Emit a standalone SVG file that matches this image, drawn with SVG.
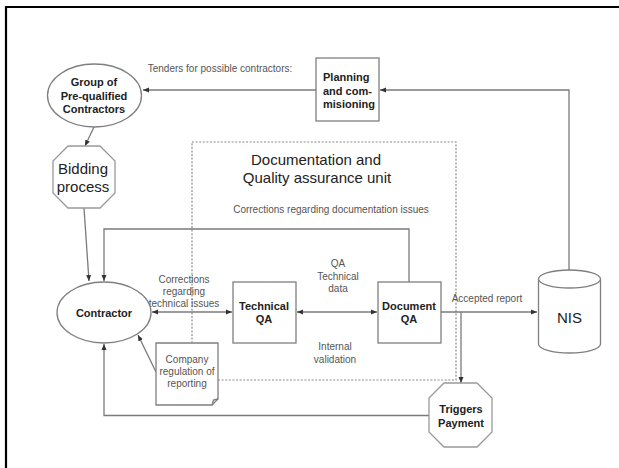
<svg xmlns="http://www.w3.org/2000/svg" width="619" height="468" viewBox="0 0 619 468">
<defs>
<marker id="ah" markerUnits="userSpaceOnUse" markerWidth="7" markerHeight="6" refX="6" refY="3" orient="auto-start-reverse">
<path d="M0,0.5 L6,3 L0,5.5 Z" fill="#333"/>
</marker>
</defs>
<style>
.shape{fill:#fff;stroke:#7f7f7f;stroke-width:1.3}
.oct{fill:#fff;stroke:#999;stroke-width:1.3}
.line{fill:none;stroke:#7a7a7a;stroke-width:1.3}
.dot{fill:none;stroke:#8a8a8a;stroke-width:1.2;stroke-dasharray:2,1.6}
.nb{font-family:"Liberation Sans",Arial,sans-serif;font-weight:bold;font-size:11px;fill:#222;text-anchor:middle}
.nr{font-family:"Liberation Sans",Arial,sans-serif;font-size:15px;fill:#222;text-anchor:middle}
.lb{font-family:"Liberation Sans",Arial,sans-serif;font-size:10px;fill:#555;text-anchor:middle}
</style>
<rect width="619" height="468" fill="#fff"/>
<path d="M6,468 V7 H619" fill="none" stroke="#000" stroke-width="2.2"/>

<g id="qa-unit">
<rect class="dot" x="192" y="142" width="264" height="238"/>
<text class="nr" x="316" y="165">Documentation and</text>
<text class="nr" x="317" y="183">Quality assurance unit</text>
</g>

<g id="connectors">
<line class="line" x1="316" y1="90" x2="143" y2="90" marker-end="url(#ah)"/>
<polyline class="line" points="569,270 569,90 380,90" marker-end="url(#ah)"/>
<line class="line" x1="94" y1="127" x2="85" y2="146" marker-end="url(#ah)"/>
<line class="line" x1="84" y1="208" x2="89" y2="281" marker-end="url(#ah)"/>
<polyline class="line" points="409,282 409,229 104,229 104,281" marker-end="url(#ah)"/>
<line class="line" x1="152" y1="312" x2="232" y2="312" marker-start="url(#ah)" marker-end="url(#ah)"/>
<line class="line" x1="297" y1="312" x2="377" y2="312" marker-start="url(#ah)" marker-end="url(#ah)"/>
<line class="line" x1="441" y1="312" x2="537" y2="312" marker-end="url(#ah)"/>
<line class="line" x1="461" y1="312" x2="461" y2="383" marker-end="url(#ah)"/>
<polyline class="line" points="429,415.5 104,415.5 104,344" marker-end="url(#ah)"/>
<line class="line" x1="156" y1="372" x2="138" y2="335" marker-end="url(#ah)"/>
<text class="lb" x="220" y="72">Tenders for possible contractors:</text>
<text class="lb" x="331" y="213">Corrections regarding documentation issues</text>
<text class="lb" x="184" y="283">Corrections</text>
<text class="lb" x="184" y="295">regarding</text>
<text class="lb" x="184" y="307">technical issues</text>
<text class="lb" x="338" y="267">QA</text>
<text class="lb" x="338" y="280">Technical</text>
<text class="lb" x="338" y="292">data</text>
<text class="lb" x="335" y="350">Internal</text>
<text class="lb" x="335" y="363">validation</text>
<text class="lb" x="487" y="302">Accepted report</text>
</g>

<g id="group-prequalified">
<ellipse class="shape" cx="94.5" cy="95.5" rx="47" ry="31.5"/>
<text class="nb" x="94" y="86">Group of</text>
<text class="nb" x="94" y="99.5">Pre-qualified</text>
<text class="nb" x="94" y="113">Contractors</text>
</g>

<g id="planning">
<rect class="shape" x="316" y="58" width="63" height="63"/>
<text class="nb" x="323" y="81" text-anchor="start" style="text-anchor:start">Planning</text>
<text class="nb" x="323" y="94.5" style="text-anchor:start">and com-</text>
<text class="nb" x="323" y="108" style="text-anchor:start">misioning</text>
</g>

<g id="bidding">
<polygon class="oct" points="68,146 100,146 115,161 115,193 100,208 68,208 53,193 53,161"/>
<text class="nr" x="83" y="174">Bidding</text>
<text class="nr" x="83" y="192">process</text>
</g>

<g id="contractor">
<ellipse class="shape" cx="104" cy="312.5" rx="47" ry="30.5"/>
<text class="nb" x="104" y="316.5">Contractor</text>
</g>

<g id="technical-qa">
<rect class="shape" x="233" y="282" width="63" height="61"/>
<text class="nb" x="264" y="310">Technical</text>
<text class="nb" x="264" y="323">QA</text>
</g>

<g id="document-qa">
<rect class="shape" x="378" y="282" width="63" height="61"/>
<text class="nb" x="409" y="310">Document</text>
<text class="nb" x="409" y="323">QA</text>
</g>

<g id="nis">
<path class="shape" d="M538.5,279 V344 A31,9 0 0 0 600.5,344 V279"/>
<ellipse class="shape" cx="569.5" cy="279" rx="31" ry="9"/>
<text class="nr" x="569.5" y="323">NIS</text>
</g>

<g id="company-regulation">
<path class="shape" d="M156,343 H218 V399 L212,405 H156 Z"/>
<path class="line" d="M212,405 L213.5,400 L218,399" stroke-width="1"/>
<text class="lb" x="187" y="363">Company</text>
<text class="lb" x="187" y="375">regulation of</text>
<text class="lb" x="187" y="387">reporting</text>
</g>

<g id="triggers-payment">
<polygon class="oct" points="444,383 477,383 492,398 492,432 477,447 444,447 429,432 429,398"/>
<text class="nb" x="461" y="413">Triggers</text>
<text class="nb" x="461" y="427">Payment</text>
</g>
</svg>
